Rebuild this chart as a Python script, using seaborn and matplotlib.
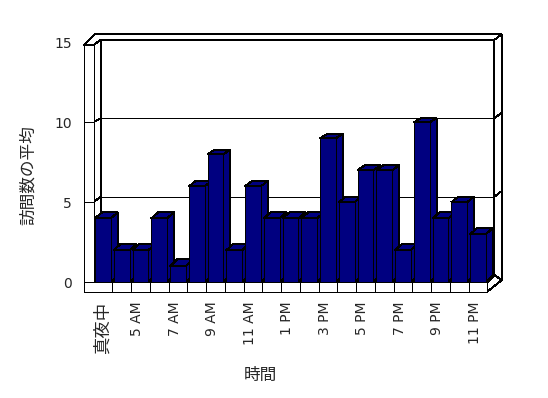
import numpy as np
import pandas as pd
import matplotlib
matplotlib.use("Agg")
import matplotlib.pyplot as plt
from matplotlib.patches import Polygon
from matplotlib.lines import Line2D
from matplotlib.transforms import ScaledTranslation
import seaborn as sns

# ---- data ----
hours = ["真夜中", "4 AM", "5 AM", "6 AM", "7 AM", "8 AM", "9 AM", "10 AM", "11 AM", "12 PM",
         "1 PM", "2 PM", "3 PM", "4 PM", "5 PM", "6 PM", "7 PM", "8 PM", "9 PM", "10 PM", "11 PM"]
visits = [4, 2, 2, 4, 1, 6, 8, 2, 6, 4, 4, 4, 9, 5, 7, 7, 2, 10, 4, 5, 3]
y_ticks = [0, 5, 10, 15]
x_title = "時間"
y_title = "訪問数の平均"

W, H = 548, 398
BAR = "#000080"
LW = 0.7
AA = False
CJK = "Noto Sans CJK JP"

sns.set_style("white")
plt.rcParams["font.family"] = ["DejaVu Sans", CJK]

fig = plt.figure(figsize=(W / 100, H / 100), dpi=100)
FL, FR, FB, FT = 93.5, 487.3, 282.3, 42.3   # front plane (pixels, top origin)
ax = fig.add_axes([FL / W, 1 - FB / H, (FR - FL) / W, (FB - FT) / H])

df = pd.DataFrame({"hour": hours, "visits": visits})
sns.barplot(data=df, x="hour", y="visits", order=hours, color=BAR, saturation=1,
            width=0.84, edgecolor="black", linewidth=LW, ax=ax)
bars = [p for p in ax.patches]
ax.set_xlim(-0.5, len(hours) - 0.5)
ax.set_ylim(y_ticks[0], y_ticks[-1])
for s in ax.spines.values():
    s.set_visible(False)
ax.patch.set_alpha(0)
ax.grid(False)

inv = ax.transData.inverted()
K = 15.68 / 16.0
BDX, BDY = 7.0, 282.3 - 275.1


def front(x, v):
    return np.array(ax.transData.transform((x, v)), float)


def back(x, v):
    px, py = ax.transData.transform((x, v * K))
    return np.array([px + BDX, py + BDY])


def tp(xp, yp):
    return np.array([xp, H - yp], float)


def poly(pts, fc, z):
    d = inv.transform(np.asarray(pts, float))
    ax.add_patch(Polygon(d, closed=True, facecolor=fc, edgecolor="black",
                         linewidth=LW, zorder=z, clip_on=False, joinstyle="miter",
                         antialiased=AA))


def line(pts, z):
    d = inv.transform(np.asarray(pts, float))
    ax.add_line(Line2D(d[:, 0], d[:, 1], color="black", linewidth=LW,
                       zorder=z, clip_on=False, antialiased=AA))


x0d, x1d = -0.5, len(hours) - 0.5
top = y_ticks[-1]
grid_levels = y_ticks[1:-1]
FLOOR_BOT = 291.7
WALL_L = 84.0
OUT_TOP = 34.3
OUT_R = 501.7

# back wall
poly([back(x0d, 0), back(x0d, top), back(x1d, top), back(x1d, 0)], "white", 1)
for v in grid_levels:
    line([back(x0d, v), back(x1d, v)], 1.5)
# floor top
poly([front(x0d, 0), front(x1d, 0), back(x1d, 0), back(x0d, 0)], "white", 1.6)
# left wall inner face
poly([front(x0d, 0), tp(FL, 45), back(x0d, top), back(x0d, 0)], "white", 2)
for v in grid_levels:
    line([front(x0d, v), back(x0d, v)], 2.1)
# left wall front face
poly([tp(WALL_L, 45), tp(FL, 45), tp(FL, FB), tp(WALL_L, FB)], "white", 2.2)
for v in grid_levels:
    yv = front(x0d, v)[1]
    line([np.array([WALL_L, yv]), np.array([front(x0d, v)[0], yv])], 2.3)
# top slab (left wall top + back wall top)
poly([tp(WALL_L, 45), tp(95, OUT_TOP), tp(OUT_R, OUT_TOP), back(x1d, top),
      back(x0d, top), tp(FL, 45)], "white", 2.2)
# right wall face
poly([back(x1d, top), tp(OUT_R, OUT_TOP), tp(OUT_R, 280), back(x1d, 0)], "white", 2.2)
for v in grid_levels:
    b = back(x1d, v)
    line([b, b + np.array([OUT_R - b[0], 5.6])], 2.3)
# floor right face
poly([front(x1d, 0), back(x1d, 0), tp(OUT_R, 280), tp(FR, FLOOR_BOT)], "white", 2.2)
# floor front strip with category dividers
poly([tp(WALL_L, FB), tp(FR, FB), tp(FR, FLOOR_BOT), tp(WALL_L, FLOOR_BOT)], "white", 2.2)
for k in range(len(hours) - 1):
    xk = front(k + 0.5, 0)[0]
    line([tp(xk, FB), tp(xk, FLOOR_BOT)], 2.3)

# 3D faces of bars
for i, p in enumerate(bars):
    xl = p.get_x()
    xr = xl + p.get_width()
    h = p.get_height()
    p.set_zorder(10 + i)
    p.set_clip_on(False)
    p.set_antialiased(AA)
    poly([front(xr, 0), front(xr, h), back(xr, h), back(xr, 0)], BAR, 9.5 + i)
    poly([front(xl, h), front(xr, h), back(xr, h), back(xl, h)], BAR, 9.5 + i)

# ticks & labels
ax.set_yticks(y_ticks)
ax.set_yticklabels([str(t) for t in y_ticks])
ax.tick_params(axis="y", length=0, pad=15.5, labelsize=10)
ax.set_xticks(range(0, len(hours), 2))
ax.set_xticklabels(hours[::2], rotation=90)
ax.tick_params(axis="x", length=0, pad=14)
for lab in ax.get_xticklabels():
    t = lab.get_text()
    if any(ord(c) > 0x2E80 for c in t):
        lab.set_fontfamily(CJK)
        lab.set_fontsize(12.5)
    else:
        lab.set_fontsize(10)
        lab.set_transform(lab.get_transform() + ScaledTranslation(-3 / 100, 0, fig.dpi_scale_trans))

ax.set_xlabel(x_title, fontfamily=CJK, fontsize=12)
ax.xaxis.set_label_coords((260 - FL) / (FR - FL), (FB - 375.5) / (FB - FT))
ax.xaxis.label.set_va("center")
ax.set_ylabel(y_title, fontfamily=CJK, fontsize=12)
ax.yaxis.set_label_coords((28.5 - FL) / (FR - FL), (FB - 175.5) / (FB - FT))
ax.yaxis.label.set_va("center")

fig.savefig("out.png", dpi=100)
